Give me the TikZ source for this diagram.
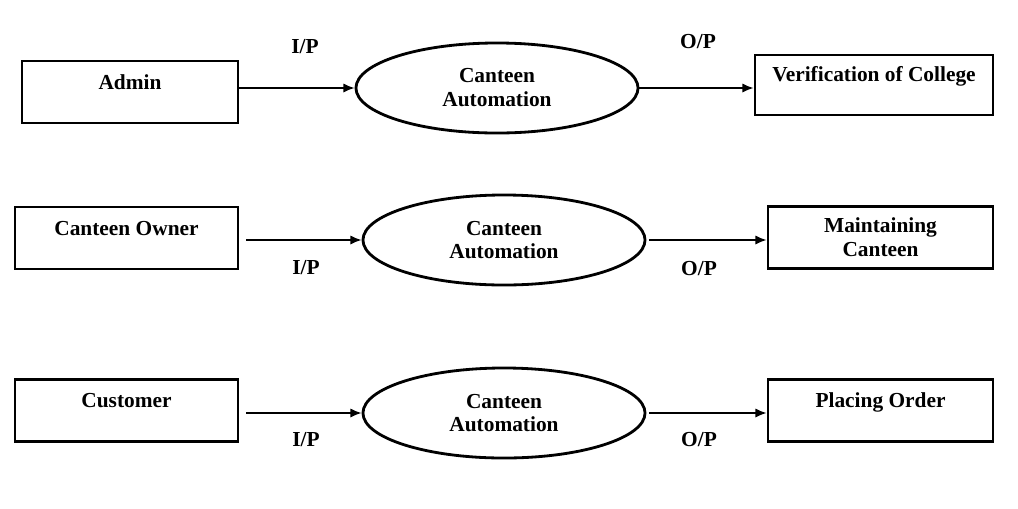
\documentclass[tikz,border=0pt]{standalone}
\usepackage{fontspec}
\setmainfont{Liberation Serif}
\usetikzlibrary{arrows.meta, positioning, shapes.geometric}
\tikzset{
  entityBox/.style={draw, line width=2pt, minimum height=1.55cm, align=center, inner sep=2pt},
  processNode/.style={draw, ellipse, line width=2pt, minimum width=7.05cm, minimum height=2.25cm, align=center, inner sep=0pt},
  flowLabel/.style={inner sep=0pt},
  flowArrow/.style={-{Latex[length=2.8mm, width=2.3mm]}, line width=1pt}
}

\begin{document}
\begin{tikzpicture}[x=0.025cm, y=-0.025cm, font=\fontsize{15.2}{17}\selectfont\bfseries]
    \useasboundingbox (0,0) rectangle (1018,508);
    % admin row
    \node[entityBox, minimum width=5.4cm, text depth=14pt] (admin) at (130,92) {Admin};
    \node[processNode] (cantA) at (497,88) {Canteen\\Automation};
    \node[entityBox, minimum width=5.95cm, minimum height=1.5cm, text depth=15pt] (verify) at (874,85) {Verification of College};
    \draw[flowArrow] (admin.east |- cantA.west) -- (cantA.west);
    \draw[flowArrow] (cantA.east) -- (verify.west |- cantA.east);
    \node[flowLabel] (inA) at (305,47) {I/P};
    \node[flowLabel] (outA) at (698,42) {O/P};
    % owner row
    \node[entityBox, minimum width=5.575cm, text depth=14pt] (owner) at (126.5,238) {Canteen Owner};
    \node[processNode] (cantB) at (504,240) {Canteen\\Automation};
    \node[entityBox, minimum width=5.625cm] (maintain) at (880.5,237.5) {Maintaining\\Canteen};
    \draw[flowArrow, shorten <=5pt] (owner.east |- cantB.west) -- (cantB.west);
    \draw[flowArrow, shorten <=2pt] (cantB.east) -- (maintain.west |- cantB.east);
    \node[flowLabel] (inB) at (306,268) {I/P};
    \node[flowLabel] (outB) at (699,269) {O/P};
    % customer row
    \node[entityBox, minimum width=5.575cm, text depth=14pt] (customer) at (126.5,410.5) {Customer};
    \node[processNode] (cantC) at (504,413) {Canteen\\Automation};
    \node[entityBox, minimum width=5.625cm, text depth=15pt] (order) at (880.5,410.5) {Placing Order};
    \draw[flowArrow, shorten <=5pt] (customer.east |- cantC.west) -- (cantC.west);
    \draw[flowArrow, shorten <=2pt] (cantC.east) -- (order.west |- cantC.east);
    \node[flowLabel] (inC) at (306,440) {I/P};
    \node[flowLabel] (outC) at (699,440) {O/P};
\end{tikzpicture}
\end{document}
